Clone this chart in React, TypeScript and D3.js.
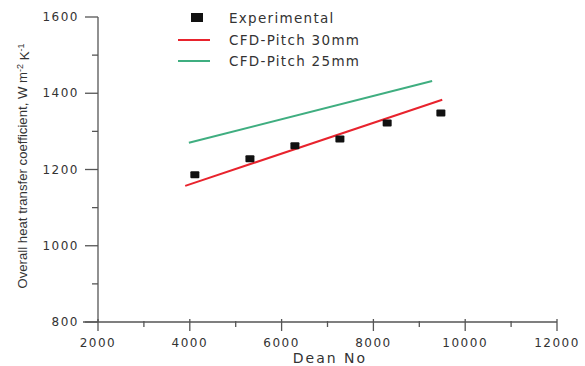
import React from "react";
import * as d3 from "d3";

const W = 585;
const H = 366;

const X_TICKS = [2000, 4000, 6000, 8000, 10000, 12000];
const X_MINOR = [3000, 5000, 7000, 9000, 11000];
const Y_TICKS = [800, 1000, 1200, 1400, 1600];
const Y_MINOR = [900, 1100, 1300, 1500];

// experimental points
const expDean = [4110, 5310, 6290, 7270, 8300, 9470];
const expU = [1186, 1228, 1262, 1280, 1322, 1348];

// CFD lines
const pitch30Dean = [3900, 9500];
const pitch30U = [1157, 1383];
const pitch25Dean = [3980, 9280];
const pitch25U = [1270, 1432];

const RED = "#e8232d";
const GREEN = "#3fae80";
const TXT = "#333";

const App: React.FC = () => {
  const x = d3.scaleLinear().domain([2000, 12000]).range([98, 557]);
  const y = d3.scaleLinear().domain([800, 1600]).range([322, 17]);

  const line = d3
    .line<[number, number]>()
    .x((d) => x(d[0]))
    .y((d) => y(d[1]));

  const p30 = pitch30Dean.map((d, i) => [d, pitch30U[i]] as [number, number]);
  const p25 = pitch25Dean.map((d, i) => [d, pitch25U[i]] as [number, number]);

  const x0 = x(2000);
  const y0 = y(800);

  return (
    <div style={{ position: "absolute", left: 0, top: 0 }}>
      <svg width={W} height={H} style={{ display: "block", background: "#fff" }}>
        {/* axes */}
        <g stroke="#555" strokeWidth={1.3} fill="none">
          <line x1={x0} x2={x0} y1={y(1600)} y2={y0} />
          <line x1={x0 - 15} x2={x(12000)} y1={y0} y2={y0} />
          {Y_TICKS.map((t) => (
            <line key={"yt" + t} x1={x0 - 13} x2={x0} y1={y(t)} y2={y(t)} />
          ))}
          {Y_MINOR.map((t) => (
            <line key={"ym" + t} x1={x0 - 6} x2={x0} y1={y(t)} y2={y(t)} />
          ))}
          {X_TICKS.map((t) => (
            <line key={"xt" + t} x1={x(t)} x2={x(t)} y1={y0 - 3} y2={y0 + 9} />
          ))}
          {X_MINOR.map((t) => (
            <line key={"xm" + t} x1={x(t)} x2={x(t)} y1={y0 - 1} y2={y0 + 5} />
          ))}
        </g>

        {/* tick labels */}
        <g fontFamily="DejaVu Sans" fontSize={12} fill={TXT} letterSpacing={1.5}>
          {Y_TICKS.map((t) => (
            <text key={"yl" + t} x={x0 - 19} y={y(t)} dy="0.35em" textAnchor="end">
              {t}
            </text>
          ))}
          {X_TICKS.map((t) => (
            <text key={"xl" + t} x={x(t)} y={y0 + 21} dy="0.35em" textAnchor="middle">
              {t}
            </text>
          ))}
        </g>

        {/* axis titles */}
        <text
          x={330}
          y={358}
          dy="0.35em"
          textAnchor="middle"
          fontFamily="DejaVu Sans"
          fontSize={14}
          letterSpacing={2}
          fill={TXT}
        >
          Dean No
        </text>
        <text
          transform={`translate(22,166) rotate(-90)`}
          textAnchor="middle"
          dy="0.35em"
          fontFamily="Liberation Sans"
          fontSize={13.2}
          fill={TXT}
        >
          Overall heat transfer coefficient, W m
          <tspan dy="-0.45em" fontSize={9}>-2</tspan>
          <tspan dy="0.45em"> K</tspan>
          <tspan dy="-0.45em" fontSize={9}>-1</tspan>
        </text>

        {/* CFD lines */}
        <path d={line(p25) || ""} stroke={GREEN} strokeWidth={2} fill="none" />
        <path d={line(p30) || ""} stroke={RED} strokeWidth={2} fill="none" />

        {/* experimental markers */}
        {expDean.map((d, i) => (
          <rect
            key={"e" + i}
            x={x(d) - 4.5}
            y={y(expU[i]) - 3.5}
            width={9}
            height={7}
            rx={1}
            fill="#111"
          />
        ))}

        {/* legend */}
        <g fontFamily="DejaVu Sans" fontSize={13.5} letterSpacing={1.3} fill={TXT}>
          <rect x={191} y={13} width={12} height={9} fill="#111" />
          <text x={229} y={18} dy="0.35em">Experimental</text>
          <line x1={178} x2={210} y1={40} y2={40} stroke={RED} strokeWidth={2} />
          <text x={229} y={40} dy="0.35em">CFD-Pitch 30mm</text>
          <line x1={178} x2={210} y1={61} y2={61} stroke={GREEN} strokeWidth={2} />
          <text x={229} y={61} dy="0.35em">CFD-Pitch 25mm</text>
        </g>
      </svg>
    </div>
  );
};

export default App;
